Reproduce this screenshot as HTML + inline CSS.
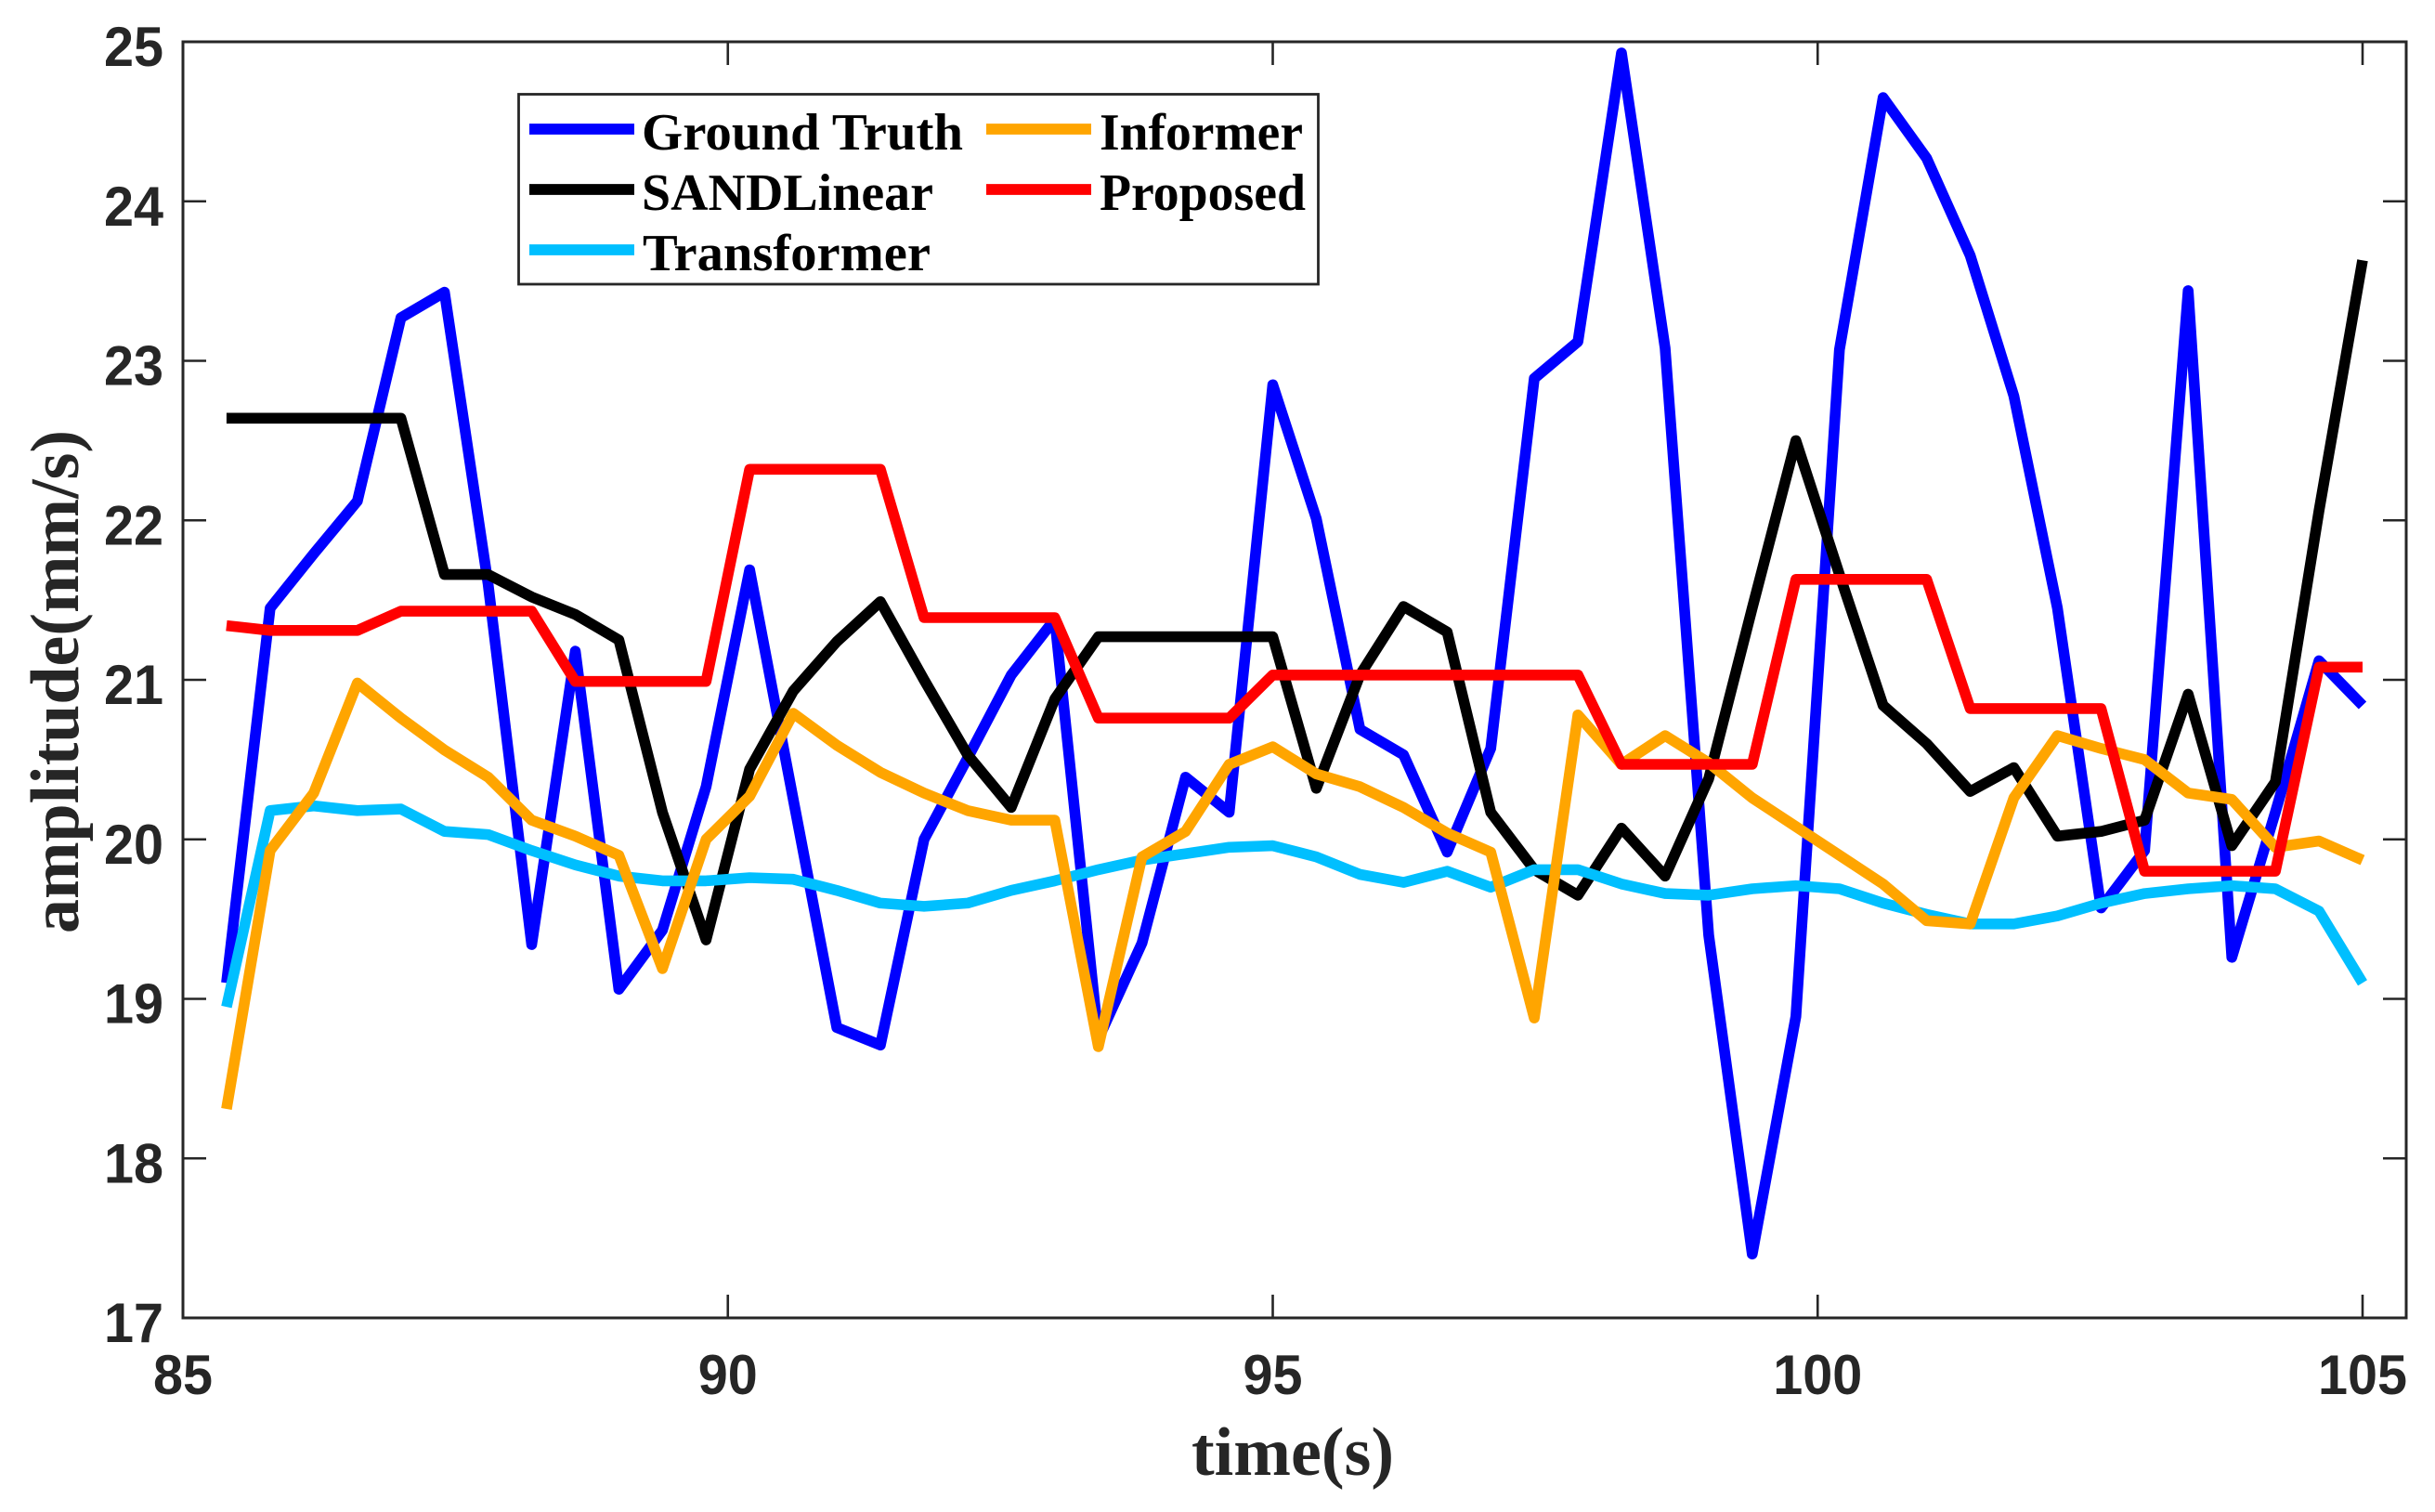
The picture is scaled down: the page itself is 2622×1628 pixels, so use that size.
<!DOCTYPE html>
<html>
<head>
<meta charset="utf-8">
<title>amplitude chart</title>
<style>
html,body{margin:0;padding:0;background:#fff;}
svg{display:block;}
.tick{font-family:"Liberation Sans",sans-serif;font-weight:bold;font-size:60px;fill:#262626;}
.leg{font-family:"Liberation Serif",serif;font-weight:bold;font-size:56px;fill:#000;}
.axt{font-family:"Liberation Serif",serif;font-weight:bold;font-size:74px;fill:#262626;}
</style>
</head>
<body>
<svg id="chart" xmlns="http://www.w3.org/2000/svg" width="2622" height="1628" viewBox="0 0 2622 1628">
<rect x="0" y="0" width="2622" height="1628" fill="#fff"/>
<g id="ticks"></g>
<g id="series"></g>
<rect x="197" y="45" width="2394" height="1374" fill="none" stroke="#262626" stroke-width="3"/>
<text class="axt" x="1392" y="1588" text-anchor="middle" textLength="218" lengthAdjust="spacingAndGlyphs">time(s)</text>
<text class="axt" transform="translate(84,734) rotate(-90)" text-anchor="middle" textLength="542" lengthAdjust="spacingAndGlyphs">amplitude(mm/s)</text>
<g>
<rect x="558.5" y="101.5" width="861" height="204.5" fill="#fff" stroke="#262626" stroke-width="2.8"/>
<line x1="570" x2="683" y1="139" y2="139" stroke="#0000ff" stroke-width="11.7"/>
<text class="leg" x="691" y="161" textLength="346" lengthAdjust="spacingAndGlyphs">Ground Truth</text>
<line x1="570" x2="683" y1="204" y2="204" stroke="#000" stroke-width="11.7"/>
<text class="leg" x="691" y="226" textLength="314" lengthAdjust="spacingAndGlyphs">SANDLinear</text>
<line x1="570" x2="683" y1="269" y2="269" stroke="#00bfff" stroke-width="11.7"/>
<text class="leg" x="692" y="291" textLength="310" lengthAdjust="spacingAndGlyphs">Transformer</text>
<line x1="1062" x2="1175" y1="139" y2="139" stroke="#ffa500" stroke-width="11.7"/>
<text class="leg" x="1184" y="161" textLength="219" lengthAdjust="spacingAndGlyphs">Informer</text>
<line x1="1062" x2="1175" y1="204" y2="204" stroke="#ff0000" stroke-width="11.7"/>
<text class="leg" x="1184" y="226" textLength="222" lengthAdjust="spacingAndGlyphs">Proposed</text>
</g>
</svg>
<script>
const xTickValues = [85, 90, 95, 100, 105];
const yTickValues = [17, 18, 19, 20, 21, 22, 23, 24, 25];
const timeStart = 85.4;
const timeStep = 0.4;
const groundTruth = [19.10,21.45,21.79,22.12,23.27,23.43,21.60,19.34,21.18,19.06,19.43,20.33,21.69,20.25,18.82,18.71,20.00,20.51,21.03,21.38,18.75,19.35,20.39,20.17,22.85,22.01,20.69,20.53,19.92,20.57,22.89,23.12,24.93,23.08,19.40,17.40,18.89,23.07,24.65,24.27,23.66,22.78,21.45,19.57,19.93,23.44,19.26,20.17,21.12,20.84];
const sandLinear = [22.64,22.64,22.64,22.64,22.64,21.66,21.66,21.52,21.41,21.25,20.17,19.37,20.44,20.93,21.24,21.49,21.00,20.53,20.20,20.88,21.27,21.27,21.27,21.27,21.27,20.32,21.03,21.46,21.30,20.17,19.81,19.65,20.07,19.77,20.38,21.45,22.50,21.66,20.84,20.60,20.30,20.45,20.02,20.05,20.12,20.91,19.96,20.36,22.06,23.63];
const transformer = [18.95,20.18,20.21,20.18,20.19,20.05,20.03,19.93,19.84,19.77,19.74,19.74,19.76,19.75,19.68,19.60,19.58,19.60,19.68,19.74,19.81,19.87,19.91,19.95,19.96,19.89,19.78,19.73,19.80,19.70,19.81,19.81,19.72,19.66,19.65,19.69,19.71,19.69,19.60,19.53,19.47,19.47,19.52,19.60,19.66,19.69,19.71,19.69,19.55,19.10];
const informer = [18.31,19.93,20.29,20.98,20.76,20.56,20.39,20.12,20.02,19.90,19.19,20.00,20.27,20.79,20.59,20.42,20.29,20.18,20.12,20.12,18.70,19.89,20.05,20.47,20.58,20.41,20.33,20.20,20.04,19.92,18.88,20.78,20.47,20.65,20.48,20.26,20.08,19.90,19.72,19.49,19.47,20.26,20.65,20.57,20.50,20.29,20.25,19.95,19.99,19.87];
const proposed = [21.34,21.31,21.31,21.31,21.43,21.43,21.43,21.43,20.99,20.99,20.99,20.99,22.32,22.32,22.32,22.32,21.39,21.39,21.39,21.39,20.76,20.76,20.76,20.76,21.03,21.03,21.03,21.03,21.03,21.03,21.03,21.03,20.47,20.47,20.47,20.47,21.63,21.63,21.63,21.63,20.82,20.82,20.82,20.82,19.80,19.80,19.80,19.80,21.08,21.08];

const SVG_NS = 'http://www.w3.org/2000/svg';
function xScale(t) { return 197 + (t - 85) * 117.35; }
function yScale(v) { return 1419 - (v - 17) * 171.75; }

const ticksGroup = document.getElementById('ticks');
function addTickLine(x1, y1, x2, y2) {
  const l = document.createElementNS(SVG_NS, 'line');
  l.setAttribute('x1', x1);
  l.setAttribute('y1', y1);
  l.setAttribute('x2', x2);
  l.setAttribute('y2', y2);
  l.setAttribute('stroke', '#262626');
  l.setAttribute('stroke-width', '2.6');
  
  
  ticksGroup.appendChild(l);
}
xTickValues.forEach(function (t) {
  const x = xScale(t);
  addTickLine(x, 1419, x, 1394);
  addTickLine(x, 45, x, 70);
  const label = document.createElementNS(SVG_NS, 'text');
  label.setAttribute('class', 'tick');
  label.setAttribute('x', x);
  label.setAttribute('y', 1501);
  label.setAttribute('text-anchor', 'middle');
  label.setAttribute('textLength', String(t).length * 32);
  label.setAttribute('lengthAdjust', 'spacingAndGlyphs');
  
  
  label.textContent = t;
  ticksGroup.appendChild(label);
});
yTickValues.forEach(function (v) {
  const y = yScale(v);
  addTickLine(197, y, 222, y);
  addTickLine(2591, y, 2566, y);
  const label = document.createElementNS(SVG_NS, 'text');
  label.setAttribute('class', 'tick');
  label.setAttribute('x', 176);
  label.setAttribute('y', y + 26);
  label.setAttribute('text-anchor', 'end');
  label.setAttribute('textLength', '64');
  label.setAttribute('lengthAdjust', 'spacingAndGlyphs');
  
  
  label.textContent = v;
  ticksGroup.appendChild(label);
});

const seriesGroup = document.getElementById('series');
function drawSeries(values, color, name) {
  const d = values.map(function (v, i) {
    const px = xScale(timeStart + i * timeStep);
    const py = yScale(v);
    return (i ? 'L' : 'M') + px.toFixed(1) + ' ' + py.toFixed(1);
  }).join(' ');
  const p = document.createElementNS(SVG_NS, 'path');
  p.setAttribute('d', d);
  p.setAttribute('fill', 'none');
  p.setAttribute('stroke', color);
  p.setAttribute('stroke-width', '11.6');
  p.setAttribute('stroke-linejoin', 'round');
  p.setAttribute('stroke-linecap', 'butt');
  
  
  seriesGroup.appendChild(p);
}
drawSeries(groundTruth, '#0000ff', 'series-ground-truth');
drawSeries(sandLinear, '#000000', 'series-sandlinear');
drawSeries(transformer, '#00bfff', 'series-transformer');
drawSeries(informer, '#ffa500', 'series-informer');
drawSeries(proposed, '#ff0000', 'series-proposed');
</script>
</body>
</html>
